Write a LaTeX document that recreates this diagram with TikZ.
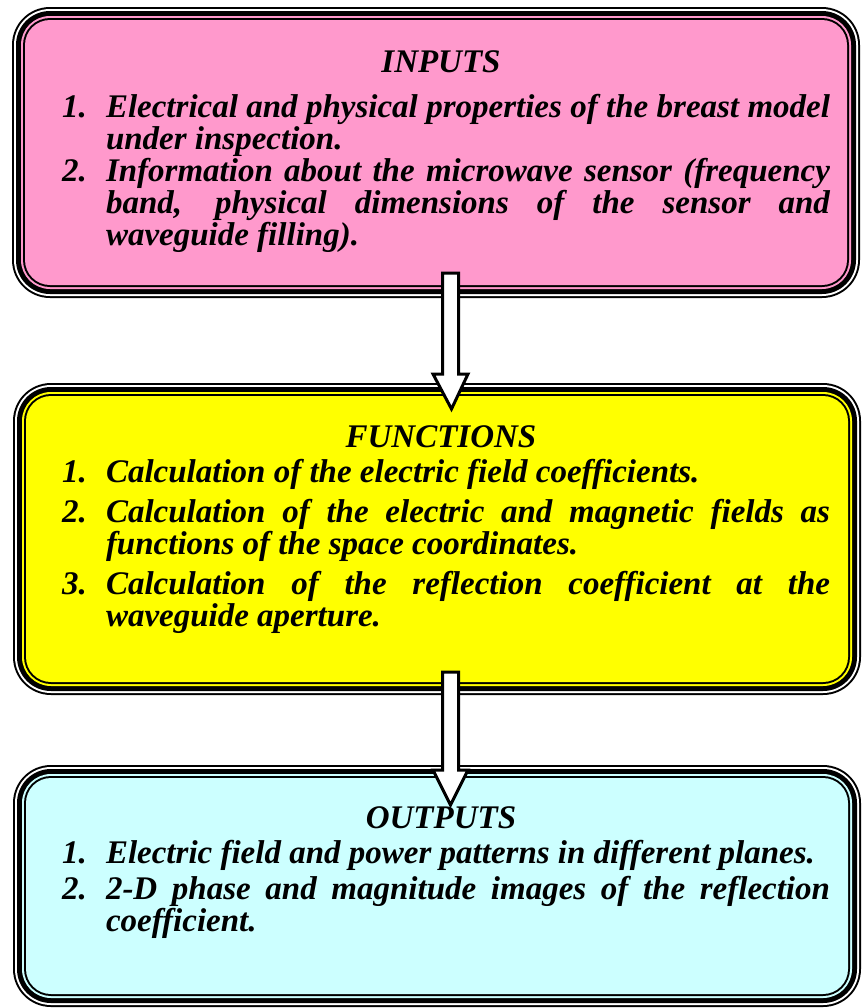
\documentclass[tikz,border=0pt]{standalone}
\usepackage{fontspec}
\setmainfont{Liberation Serif}
\usepackage{xcolor}
\usepackage{tikz}
\usetikzlibrary{calc}

\definecolor{inpink}{RGB}{255,153,204}
\definecolor{fnyellow}{RGB}{255,255,0}
\definecolor{outcyan}{RGB}{204,255,255}

\begin{document}
\begin{tikzpicture}[x=0.5pt, y=-0.5pt,
    every node/.style={font=\fontsize{16.5}{16}\selectfont\bfseries\itshape, inner sep=0pt, outer sep=0pt},
    panel/.style={minimum width=424pt},
    title/.style={anchor=base},
    num/.style={anchor=base west},
    item/.style={anchor=base west, text width=362pt, align=justify},
    fatarrow/.style={draw=black, fill=white, line width=1.5pt, line join=miter,
        to path={let \p1=(\tikztostart), \p2=(\tikztotarget) in
            (\x1-4pt,\y1) -- (\x1-4pt,\y2+17.5pt) -- (\x1-8.75pt,\y2+17.5pt) -- (\x2,\y2)
            -- (\x1+8.75pt,\y2+17.5pt) -- (\x1+4pt,\y2+17.5pt) -- (\x1+4pt,\y1) -- cycle}},
]
\useasboundingbox (0,0) rectangle (862,1008);

% Boxes
\node[panel, minimum height=145.5pt] (inputs) at (436,152.5) {};
\node[panel, minimum height=156pt] (functions) at (437,539) {};
\node[panel, minimum height=121pt] (outputs) at (437,886) {};

% thin-thick-thin border, then the fill
\foreach \n/\c in {inputs/inpink, functions/fnyellow, outputs/outcyan}
  \foreach \i/\k in {0/black, 1/white, 2/black, 4.5/\c, 5.5/black, 6.5/\c}
    \fill[fill=\k, rounded corners=19pt-\i pt]
      ([shift={(\i pt,-\i pt)}]\n.north west) rectangle ([shift={(-\i pt,\i pt)}]\n.south east);

% Inputs
\node[title] (intitle) at (441,72) {INPUTS};
\node[num] (in1n) at (62,117) {1.};
\node[item] (in1) at (106,117) {Electrical and physical properties of the breast model\linebreak under inspection.};
\node[num] (in2n) at (62,181) {2.};
\node[item] (in2) at (106,181) {Information about the microwave sensor (frequency\linebreak band, physical dimensions of the sensor and\linebreak waveguide filling).};

% Functions
\node[title] (fntitle) at (441,447) {FUNCTIONS};
\node[num] (fn1n) at (62,482) {1.};
\node[item] (fn1) at (106,482) {Calculation of the electric field coefficients.};
\node[num] (fn2n) at (62,522) {2.};
\node[item] (fn2) at (106,522) {Calculation of the electric and magnetic fields as\linebreak functions of the space coordinates.};
\node[num] (fn3n) at (62,594) {3.};
\node[item] (fn3) at (106,594) {Calculation of the reflection coefficient at the\linebreak waveguide aperture.};

% Outputs
\node[title] (outtitle) at (441,828) {OUTPUTS};
\node[num] (out1n) at (62,863) {1.};
\node[item] (out1) at (106,863) {Electric field and power patterns in different planes.};
\node[num] (out2n) at (62,899) {2.};
\node[item] (out2) at (106,899) {2-D phase and magnitude images of the reflection\linebreak coefficient.};

% Arrows
\draw[fatarrow] ([shift={(14.5,-25)}]inputs.south) to ([shift={(14.5,26)}]functions.north);
\draw[fatarrow] ([shift={(13.5,-23)}]functions.south) to ([shift={(13.5,40)}]outputs.north);

\end{tikzpicture}
\end{document}
